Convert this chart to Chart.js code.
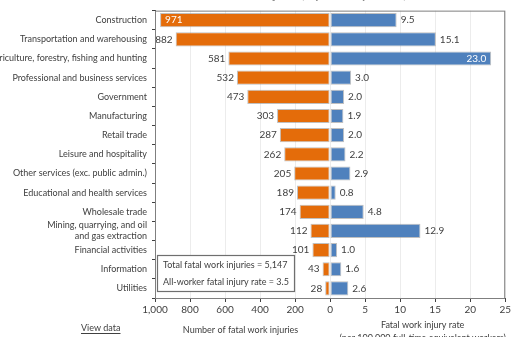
<!DOCTYPE html>
<html>
<head>
<meta charset="utf-8">
<script src="https://cdn.jsdelivr.net/npm/chart.js@4.4.1/dist/chart.umd.min.js"></script>
<style>
    html, body { margin: 0; padding: 0; background: #ffffff; }
    #wrap { position: relative; width: 513px; height: 337px; }
</style>
</head>
<body>
<div id="wrap"><canvas id="chart"></canvas></div>
<script>
// Dati
const categories = [
    "Construction",
    "Transportation and warehousing",
    "Agriculture, forestry, fishing and hunting",
    "Professional and business services",
    "Government",
    "Manufacturing",
    "Retail trade",
    "Leisure and hospitality",
    "Other services (exc. public admin.)",
    "Educational and health services",
    "Wholesale trade",
    ["Mining, quarrying, and oil", "and gas extraction"],
    "Financial activities",
    "Information",
    "Utilities"
];
const fatalCounts = [971, 882, 581, 532, 473, 303, 287, 262, 205, 189, 174, 112, 101, 43, 28];
const fatalRates = [9.5, 15.1, 23.0, 3.0, 2.0, 1.9, 2.0, 2.2, 2.9, 0.8, 4.8, 12.9, 1.0, 1.6, 2.6];
const countTicks = [1000, 800, 600, 400, 200, 0];
const rateTicks = [0, 5, 10, 15, 20, 25];
const summaryLines = ["Total fatal work injuries = 5,147", "All-worker fatal injury rate = 3.5"];

const COUNT_MAX = 1000;
const RATE_MAX = 25;
const RATE_SCALE = COUNT_MAX / RATE_MAX; // la scala destra (0-25) occupa la stessa larghezza di 0-1000

const ORANGE = "#E46C0A";
const BLUE = "#4F81BD";
const TEXT = "#404040";
const FONT = "Lato, 'Liberation Sans', sans-serif";

function tickText(v) {
    if (v < 0) return Math.abs(v).toLocaleString("en-US");
    return String(Math.round(v / RATE_SCALE));
}

// Etichette dei valori sulle barre
const valueLabels = {
    id: "valueLabels",
    afterDatasetsDraw(chart) {
        const ctx = chart.ctx;
        const area = chart.chartArea;
        ctx.save();
        ctx.font = "10px " + FONT;
        ctx.textBaseline = "middle";
        chart.getDatasetMeta(0).data.forEach((bar, i) => {
            const txt = String(fatalCounts[i]);
            const w = ctx.measureText(txt).width;
            if (bar.x - 3 - w < area.left) {
                ctx.fillStyle = "#ffffff";
                ctx.textAlign = "left";
                ctx.fillText(txt, bar.x + 5, bar.y);
            } else {
                ctx.fillStyle = TEXT;
                ctx.textAlign = "right";
                ctx.fillText(txt, bar.x - 3, bar.y);
            }
        });
        chart.getDatasetMeta(1).data.forEach((bar, i) => {
            const txt = fatalRates[i].toFixed(1);
            const w = ctx.measureText(txt).width;
            if (bar.x + 4 + w > area.right - 2) {
                ctx.fillStyle = "#ffffff";
                ctx.textAlign = "right";
                ctx.fillText(txt, bar.x - 5, bar.y);
            } else {
                ctx.fillStyle = TEXT;
                ctx.textAlign = "left";
                ctx.fillText(txt, bar.x + 4, bar.y);
            }
        });
        ctx.restore();
    }
};

// Cornice, riquadro riassuntivo e testi sotto gli assi
const extras = {
    id: "extras",
    afterDraw(chart) {
        const ctx = chart.ctx;
        const area = chart.chartArea;
        ctx.save();

        // cornice del grafico
        ctx.strokeStyle = "#7f7f7f";
        ctx.lineWidth = 1;
        ctx.strokeRect(area.left + 0.5, area.top + 0.5, area.right - area.left - 1, area.bottom - area.top);

        // titolo tagliato in alto
        ctx.fillStyle = "#8a8a8a";
        ctx.font = "bold 12px " + FONT;
        ctx.textAlign = "center";
        ctx.textBaseline = "middle";
        ctx.fillText("Number and rate of fatal work injuries, by industry sector, 2017", 268, -5);

        // riquadro con i totali
        const boxL = area.left + 2, boxT = 255, boxW = 137, boxH = 36;
        ctx.fillStyle = "#ffffff";
        ctx.fillRect(boxL, boxT, boxW, boxH);
        ctx.strokeStyle = "#6f6f6f";
        ctx.lineWidth = 1.2;
        ctx.strokeRect(boxL + 0.5, boxT + 0.5, boxW, boxH);
        ctx.fillStyle = TEXT;
        ctx.font = "9px " + FONT;
        ctx.textAlign = "left";
        ctx.fillText(summaryLines[0], boxL + 6, boxT + 10);
        ctx.fillText(summaryLines[1], boxL + 6, boxT + 27);

        // titoli degli assi
        const xs = chart.scales.x;
        ctx.font = "9px " + FONT;
        ctx.textAlign = "center";
        ctx.fillText("Number of fatal work injuries", (xs.getPixelForValue(-COUNT_MAX) + xs.getPixelForValue(0)) / 2 - 2, 330);
        const rateCenter = (xs.getPixelForValue(0) + xs.getPixelForValue(COUNT_MAX)) / 2 + 5;
        ctx.fillText("Fatal work injury rate", rateCenter, 325);
        ctx.fillText("(per 100,000 full-time equivalent workers)", rateCenter, 338);

        // link "View data"
        ctx.textAlign = "left";
        ctx.fillText("View data", 81, 328);
        const vw = ctx.measureText("View data").width;
        ctx.strokeStyle = TEXT;
        ctx.lineWidth = 1;
        ctx.beginPath();
        ctx.moveTo(81, 333.5);
        ctx.lineTo(81 + vw, 333.5);
        ctx.stroke();

        ctx.restore();
    }
};

new Chart(document.getElementById("chart").getContext("2d"), {
    type: "bar",
    data: {
        labels: categories,
        datasets: [
            {
                label: "Number of fatal work injuries",
                data: fatalCounts.map(v => -v),
                backgroundColor: ORANGE,
                borderColor: "rgba(150,150,150,0.6)",
                borderWidth: 1,
                borderSkipped: false
            },
            {
                label: "Fatal work injury rate",
                data: fatalRates.map(r => r * RATE_SCALE),
                backgroundColor: BLUE,
                borderColor: "rgba(150,150,150,0.6)",
                borderWidth: 1,
                borderSkipped: false
            }
        ]
    },
    options: {
        indexAxis: "y",
        responsive: true,
        maintainAspectRatio: false,
        animation: false,
        devicePixelRatio: 1,
        layout: { padding: { top: 8, right: 6, left: 0, bottom: 0 } },
        datasets: { bar: { barPercentage: 0.74, categoryPercentage: 1 } },
        plugins: {
            legend: { display: false },
            tooltip: { enabled: false }
        },
        scales: {
            x: {
                type: "linear",
                stacked: true,
                min: -COUNT_MAX,
                max: COUNT_MAX,
                afterBuildTicks(scale) {
                    const vals = countTicks.map(v => -v).concat(rateTicks.slice(1).map(r => r * RATE_SCALE));
                    scale.ticks = vals.map(v => ({ value: v }));
                },
                afterFit(scale) { scale.height = 39; },
                ticks: {
                    callback: v => tickText(v),
                    color: TEXT,
                    font: { family: FONT, size: 10 },
                    padding: 2,
                    maxRotation: 0,
                    autoSkip: false
                },
                grid: {
                    color: "#ececec",
                    tickColor: "#404040",
                    tickLength: 4,
                    drawOnChartArea: true
                },
                border: { display: true, color: "#404040" }
            },
            y: {
                stacked: true,
                afterFit(scale) { scale.width = 155; },
                ticks: {
                    color: TEXT,
                    font: { family: FONT, size: 9, lineHeight: 1.25 },
                    padding: 5,
                    autoSkip: false
                },
                grid: {
                    offset: true,
                    drawOnChartArea: false,
                    tickColor: "#404040",
                    tickLength: 3
                },
                border: { display: true, color: "#404040" }
            }
        }
    },
    plugins: [valueLabels, extras]
});
</script>
</body>
</html>
